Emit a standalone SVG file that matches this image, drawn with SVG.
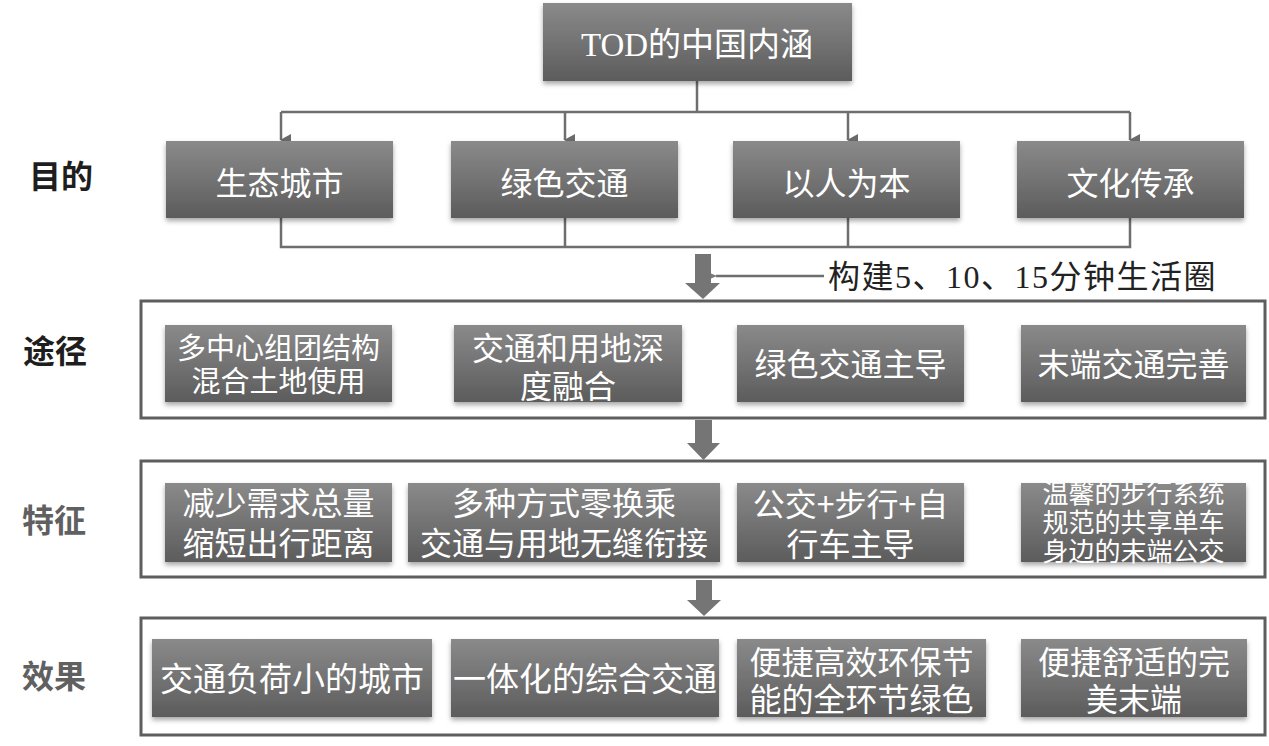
<svg xmlns="http://www.w3.org/2000/svg" width="1269" height="746" viewBox="0 0 1269 746">
<defs>
<linearGradient id="g" x1="0" y1="0" x2="0" y2="1">
<stop offset="0" stop-color="#8a8a8a"/>
<stop offset="1" stop-color="#5c5c5c"/>
</linearGradient>
<filter id="sh" x="-5%" y="-10%" width="110%" height="130%">
<feDropShadow dx="0" dy="3" stdDeviation="2.5" flood-color="#000" flood-opacity="0.35"/>
</filter>
<marker id="ah" markerWidth="12" markerHeight="12" refX="6" refY="10" orient="auto-start-reverse" markerUnits="userSpaceOnUse" viewBox="0 0 12 12">
<path d="M0,0 L12,0 L6,11 Z" fill="#6a6a6a"/>
</marker>
<marker id="al" markerWidth="14" markerHeight="12" refX="1" refY="6" orient="auto" markerUnits="userSpaceOnUse" viewBox="0 0 14 12">
<path d="M14,0 L0,6 L14,12 Z" fill="#7a7a7a"/>
</marker>
</defs>
<style>
.box{fill:url(#g);filter:url(#sh)}
.t{font-family:"Noto Sans CJK SC",sans-serif;fill:#fff;text-anchor:middle}
.frame{fill:#fff;stroke:#5e5e5e;stroke-width:3}
.lab{font-family:"Noto Sans CJK SC",sans-serif;font-weight:bold;font-size:32px;text-anchor:middle}
.conn{fill:none;stroke:#6e6e6e;stroke-width:2.5}
.big{fill:#757575}
</style>
<rect width="1269" height="746" fill="#fff"/>

<g id="labels">
<text class="lab" x="61" y="188" fill="#1e1e1e">目的</text>
<text class="lab" x="55" y="363" fill="#1e1e1e">途径</text>
<text class="lab" x="54" y="532" fill="#606060">特征</text>
<text class="lab" x="54" y="688" fill="#606060">效果</text>
</g>

<g id="frames">
<rect class="frame" x="141" y="301" width="1124" height="117"/>
<rect class="frame" x="141" y="461" width="1124" height="116"/>
<rect class="frame" x="141" y="618" width="1124" height="117"/>
</g>

<g id="connectors">
<path class="conn" d="M697,81 V112"/>
<path class="conn" d="M281,112 H1130"/>
<path class="conn" d="M281,112 V140" marker-end="url(#ah)"/>
<path class="conn" d="M565,112 V140" marker-end="url(#ah)"/>
<path class="conn" d="M848,112 V140" marker-end="url(#ah)"/>
<path class="conn" d="M1130,112 V140" marker-end="url(#ah)"/>
<path class="conn" d="M281,218 V247 H1130 V218 M565,218 V247 M848,218 V247"/>
<path class="conn" d="M824,276 H716" stroke="#808080" marker-end="url(#al)"/>
<path class="big" d="M695,254 H711 V283 H720 L703,299 L685,283 H695 Z"/>
<path class="big" d="M695,420 H712 V443 H720 L703.5,460 L687,443 H695 Z"/>
<path class="big" d="M696,580 H712 V600 H721 L704,616 L687,600 H696 Z"/>
</g>

<g id="top">
<rect class="box" x="543" y="3" width="309" height="78"/>
<text class="t" x="697" y="56" font-size="33"><tspan font-family="Liberation Serif,serif">TOD</tspan>的中国内涵</text>
</g>

<g id="n1"><rect class="box" x="166" y="141" width="227" height="77"/><text class="t" x="279.5" y="195" font-size="32">生态城市</text></g>
<g id="n2"><rect class="box" x="451" y="141" width="227" height="77"/><text class="t" x="564.5" y="195" font-size="32">绿色交通</text></g>
<g id="n3"><rect class="box" x="733" y="141" width="227" height="77"/><text class="t" x="846.5" y="195" font-size="32">以人为本</text></g>
<g id="n4"><rect class="box" x="1017" y="141" width="227" height="77"/><text class="t" x="1130.5" y="195" font-size="32">文化传承</text></g>

<g id="note"><text x="828" y="288" font-size="32" letter-spacing="1.5" fill="#222" font-family="Liberation Serif,Noto Sans CJK SC,serif">构建5、10、15分钟生活圈</text></g>

<g id="p1"><rect class="box" x="165" y="325" width="227" height="77"/><text class="t" x="278.5" y="359" font-size="29">多中心组团结构</text><text class="t" x="278.5" y="392" font-size="29">混合土地使用</text></g>
<g id="p2"><rect class="box" x="454" y="325" width="228" height="77"/><text class="t" x="568" y="360" font-size="32">交通和用地深</text><text class="t" x="568" y="398" font-size="32">度融合</text></g>
<g id="p3"><rect class="box" x="737" y="325" width="227" height="77"/><text class="t" x="850.5" y="376" font-size="32">绿色交通主导</text></g>
<g id="p4"><rect class="box" x="1021" y="325" width="225" height="77"/><text class="t" x="1133.5" y="376" font-size="32">末端交通完善</text></g>

<g id="f1"><rect class="box" x="165" y="483" width="227" height="79"/><text class="t" x="278.5" y="515" font-size="32">减少需求总量</text><text class="t" x="278.5" y="555" font-size="32">缩短出行距离</text></g>
<g id="f2"><rect class="box" x="408" y="483" width="312" height="79"/><text class="t" x="564" y="515" font-size="32">多种方式零换乘</text><text class="t" x="564" y="555" font-size="32">交通与用地无缝衔接</text></g>
<g id="f3"><rect class="box" x="737" y="483" width="227" height="79"/><text class="t" x="850.5" y="516" font-size="32">公交+步行+自</text><text class="t" x="850.5" y="556" font-size="32">行车主导</text></g>
<g id="f4"><rect class="box" x="1021" y="483" width="225" height="79"/><text class="t" x="1133.5" y="503" font-size="26">温馨的步行系统</text><text class="t" x="1133.5" y="532" font-size="26">规范的共享单车</text><text class="t" x="1133.5" y="561" font-size="26">身边的末端公交</text></g>

<g id="e1"><rect class="box" x="152" y="639" width="280" height="78"/><text class="t" x="292" y="691" font-size="33">交通负荷小的城市</text></g>
<g id="e2"><rect class="box" x="451" y="639" width="268" height="78"/><text class="t" x="585" y="691" font-size="33">一体化的综合交通</text></g>
<g id="e3"><rect class="box" x="737" y="639" width="249" height="78"/><text class="t" x="861.5" y="674" font-size="32">便捷高效环保节</text><text class="t" x="861.5" y="711" font-size="32">能的全环节绿色</text></g>
<g id="e4"><rect class="box" x="1021" y="639" width="226" height="78"/><text class="t" x="1134" y="674" font-size="32">便捷舒适的完</text><text class="t" x="1134" y="711" font-size="32">美末端</text></g>
</svg>
